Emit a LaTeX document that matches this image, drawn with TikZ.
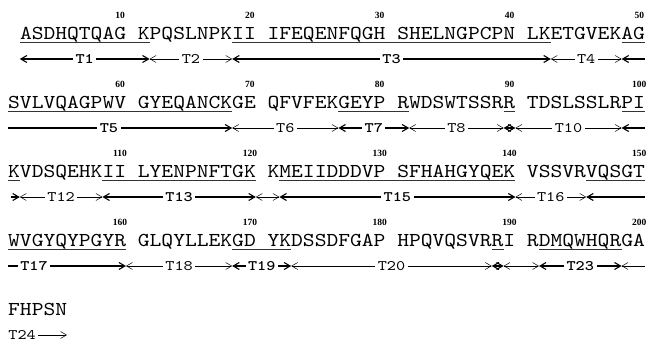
\documentclass[tikz,border=0pt]{standalone}
\usepackage{fontspec}
\newfontfamily\seqfont{lmmono10-regular.otf}[FakeStretch=1.14]
\newfontfamily\labfont{lmmono10-regular.otf}[BoldFont=lmmonolt10-bold.otf,FakeStretch=1.2]
\newfontfamily\numfont{Liberation Serif}
\usetikzlibrary{arrows.meta}
\tikzset{
	sb/.tip={Straight Barb[length=6pt,width=7pt]},
	seq/.style={anchor=base west,inner sep=0pt,font=\seqfont\fontsize{19.7}{20}\selectfont},
	num/.style={anchor=base,inner sep=0pt,font=\numfont\bfseries\fontsize{9.5}{9.5}\selectfont},
	odd/.style={line width=1.1pt},
	even/.style={line width=0.5pt},
	odd lab/.style={fill=white,inner xsep=2.5pt,inner ysep=1pt,font=\labfont\bfseries\fontsize{14.5}{15}\selectfont},
	even lab/.style={fill=white,inner xsep=2.5pt,inner ysep=1pt,font=\labfont\fontsize{14.5}{15}\selectfont},
	uline/.style={line width=0.8pt,black!80}
}
\begin{document}
\begin{tikzpicture}[x=1pt,y=-1pt]
	\useasboundingbox (0,0) rectangle (648,344);
	\node[seq] (row1) at ({8+11.8},40) {ASDHQTQAG KPQSLNPKII IFEQENFQGH SHELNGPCPN LKETGVEKAG};
	\node[seq] (row2) at (8,109) {SVLVQAGPWV GYEQANCKGE QFVFEKGEYP RWDSWTSSRR TDSLSSLRPI};
	\node[seq] (row3) at (8,178) {KVDSQEHKII LYENPNFTGK KMEIIDDDVP SFHAHGYQEK VSSVRVQSGT};
	\node[seq] (row4) at (8,247) {WVGYQYPGYR GLQYLLEKGD YKDSSDFGAP HPQVQSVRRI RDMQWHQRGA};
	\node[seq] (row5) at (8,316) {FHPSN};
	\foreach \r in {1,...,4}
		\foreach \k in {1,...,5}{
			\pgfmathtruncatemacro\n{50*(\r-1)+10*\k}
			\node[num] (n\n) at ({8+(11*(\k-1)+9.5)*11.8},{19+69*(\r-1)}) {\n};
		}
	\foreach \r/\a/\b in {1/1/12,1/19/46,1/52/54,2/0/19,2/28/34,2/42/43,2/52/54,
		3/0/1,3/8/21,3/23/43,3/49/54,4/0/10,4/19/24,4/41/42,4/45/52}
		\draw[uline] ({8+\a*11.8},{42.5+69*(\r-1)}) -- ({8+\b*11.8},{42.5+69*(\r-1)});
	\foreach \r/\a/\b/\k/\t in {1/1/12/odd/T1,1/12/19/even/T2,1/19/46/odd/T3,1/46/52/even/T4,
		2/19/28/even/T6,2/28/34/odd/T7,2/34/42/even/T8,2/43/52/even/T10,
		3/1/8/even/T12,3/8/21/odd/T13,3/23/43/odd/T15,3/43/49/even/T16,
		4/10/19/even/T18,4/19/24/odd/T19,4/24/41/even/T20,4/45/52/odd/T23}
		\draw[sb-sb,\k] ({8+\a*11.8},{59+69*(\r-1)}) -- node[\k\space lab] (\t) {\t} ({8+\b*11.8},{59+69*(\r-1)});
	\foreach \r/\a/\b/\k in {2/42/43/odd,3/21/23/even,4/41/42/odd,4/42/45/even}
		\draw[sb-sb,\k] ({8+\a*11.8},{59+69*(\r-1)}) -- ({8+\b*11.8},{59+69*(\r-1)});
	\foreach \r/\a/\k in {1/52/odd,2/52/odd,3/49/odd,4/52/even}
		\draw[sb-,\k] ({8+\a*11.8},{59+69*(\r-1)}) -- ({8+54*11.8},{59+69*(\r-1)});
	\foreach \r/\b/\k/\t/\p in {2/19/odd/T5/0.45,3/1/odd//0,4/10/odd/T17/0.22,5/5/even/T24/0.24}
		\draw[-sb,\k] (8,{59+69*(\r-1)}) -- ({8+\b*11.8},{59+69*(\r-1)}) node[\k\space lab,pos=\p] {\t};
\end{tikzpicture}
\end{document}
